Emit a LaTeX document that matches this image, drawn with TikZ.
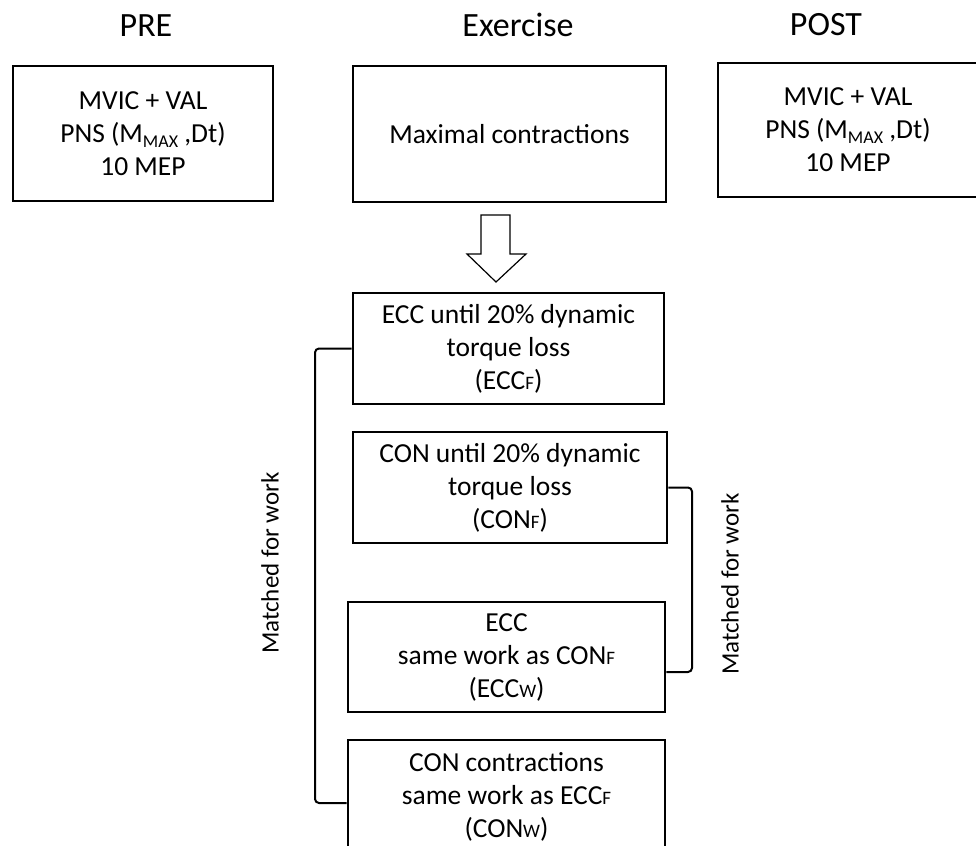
\documentclass[tikz,border=0pt]{standalone}
\usepackage{fontspec}
\setmainfont{Carlito}
\newcommand{\lowsub}[1]{\raisebox{-5pt}{\fontsize{18}{18}\selectfont #1}}
\newcommand{\capsc}[1]{{\fontsize{19}{19}\selectfont #1}}

\begin{document}
\begin{tikzpicture}[x=1pt, y=-1pt,
  hd/.style={anchor=base, font=\fontsize{34}{40}\selectfont},
  stage/.style={draw, line width=2.6pt, align=center, inner sep=0pt,
    font=\fontsize{27.5}{33}\selectfont},
  bracket/.style={line width=2pt, rounded corners=4pt},
  side/.style={rotate=90, font=\fontsize{25}{30}\selectfont}]
\clip (0,0) rectangle (976,845);
\node[hd] (prehd) at (146,37) {PRE};
\node[hd] (exhd) at (518,37) {Exercise};
\node[hd] (posthd) at (826,36) {POST};
\node[stage, minimum width=260, minimum height=135] (pre) at (143,133.5) {MVIC + VAL\\PNS (M\lowsub{MAX} ,Dt)\\10 MEP};
\node[stage, minimum width=313, minimum height=136] (ex) at (509.5,134) {Maximal contractions};
\node[stage, minimum width=260, minimum height=134] (post) at (848,130) {MVIC + VAL\\PNS (M\lowsub{MAX} ,Dt)\\10 MEP};
\node[stage, minimum width=311, minimum height=111] (eccf) at (508.5,348.5) {ECC until 20\% dynamic\\torque loss\\(ECC\capsc{F})};
\node[stage, minimum width=314, minimum height=111] (conf) at (510,487.5) {CON until 20\% dynamic\\torque loss\\(CON\capsc{F})};
\node[stage, minimum width=317, minimum height=110] (eccw) at (506.5,657) {ECC\\same work as CON\capsc{F}\\(ECC\capsc{W})};
\node[stage, minimum width=317, minimum height=114] (conw) at (506.5,797) {CON contractions\\same work as ECC\capsc{F}\\(CON\capsc{W})};
\node[side] (mleft) at (270,563) {Matched for work};
\node[side] (mright) at (730,584) {Matched for work};
% block arrow below the exercise box
\draw[line width=1.2pt, line join=miter] (481,215) -- (510,215) -- (510,254) -- (526,254)
  -- (496,282) -- (467,254) -- (481,254) -- cycle;
\draw[bracket] (eccf.west) -| (315,803) -- (conw.west |- 0,803);
\draw[bracket] (conf.east) -| (692,672) -- ([yshift=-15pt]eccw.east);
\end{tikzpicture}
\end{document}
